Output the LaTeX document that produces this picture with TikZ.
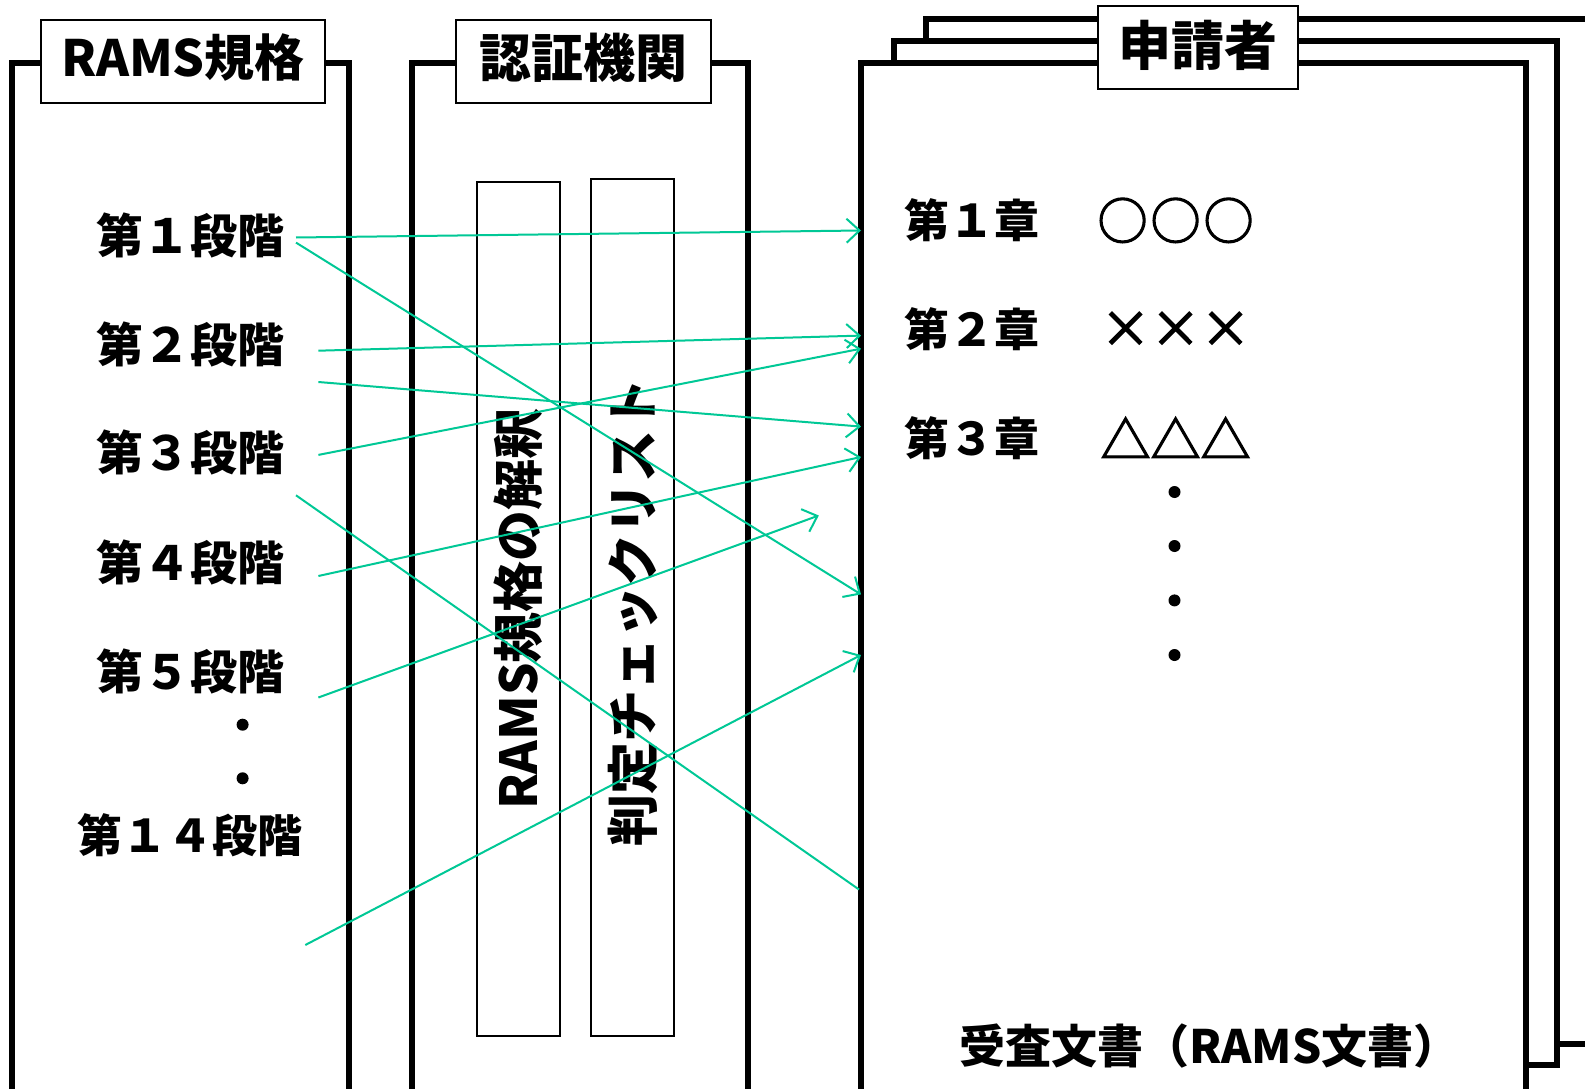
\documentclass[tikz,border=0pt]{standalone}
\usepackage{fontspec}
\newfontfamily\jp{Noto Sans CJK JP}
\newfontfamily\jpsym{Noto Sans CJK JP}[FakeBold=2.5]
\usetikzlibrary{arrows.meta}
\definecolor{arrowgreen}{RGB}{0,200,150}
\begin{document}
\begin{tikzpicture}[x=1pt,y=-1pt,
  frame/.style={line width=5.5pt, line join=miter},
  titlebox/.style={draw, line width=1.5pt, fill=white, minimum height=83pt, inner sep=0pt},
  innerbox/.style={draw, line width=2pt, fill=white, inner sep=0pt, font=\jp\bfseries\fontsize{51}{60}\selectfont},
  lbl/.style={font=\jp\bfseries\fontsize{47}{58}\selectfont, inner sep=0pt},
  chlbl/.style={font=\jp\bfseries\fontsize{45}{54}\selectfont, inner sep=0pt},
  doclbl/.style={font=\jp\bfseries\fontsize{46}{54}\selectfont, inner sep=0pt},
  sym/.style={font=\jpsym\fontsize{50}{60}\selectfont, inner sep=0pt},
  dot/.style={circle, fill=black, inner sep=0pt, minimum size=12pt},
  arr/.style={draw=arrowgreen, line width=2pt, -{Straight Barb[length=13pt,width=24pt,line width=2pt]}},
  link/.style={draw=arrowgreen, line width=2pt}
]
\clip (0,0) rectangle (1585,1089);
\fill[white] (0,0) rectangle (1585,1089);

% left column: RAMS standard
\draw[frame] (12,1100) -- (12,63) -- (349,63) -- (349,1100);
\node[titlebox, minimum width=284pt] (t1) at (183,61.5) {};
\node[font=\jp\bfseries\fontsize{50}{60}\selectfont, inner sep=0pt] (t1l) at (183,58) {RAMS規格};

% middle column: certification body
\draw[frame] (412,1100) -- (412,63) -- (748,63) -- (748,1100);
\node[titlebox, minimum width=255pt] (t2) at (583.5,61.5) {};
\node[font=\jp\bfseries\fontsize{52}{60}\selectfont, inner sep=0pt] (t2l) at (583.5,58) {認証機関};
\node[innerbox, rotate=90, minimum width=854pt, minimum height=83pt] (ib1) at (518.5,609) {RAMS規格の解釈};
\node[innerbox, rotate=90, minimum width=857pt, minimum height=83pt] (ib2) at (632.5,607.5) {};
\node[font=\jp\bfseries\fontsize{52}{60}\selectfont, inner sep=0pt, rotate=90] (ib2l) at (632.5,612) {判定チェックリスト};

% right column: applicant (stacked pages)
\draw[frame, fill=white] (926,19) rectangle (1620,1044);
\draw[frame, fill=white] (894,41) rectangle (1557,1065);
\draw[frame, fill=white] (861,63) rectangle (1526,1120);
\node[titlebox, minimum width=200pt] (t3) at (1198,47.5) {};
\node[font=\jp\bfseries\fontsize{53}{60}\selectfont, inner sep=0pt] (t3l) at (1198,45) {申請者};

% stages
\node[lbl] (s1) at (190,235.5) {第１段階};
\node[lbl] (s2) at (190,344.7) {第２段階};
\node[lbl] (s3) at (190,452.8) {第３段階};
\node[lbl] (s4) at (190,562) {第４段階};
\node[lbl] (s5) at (190,671) {第５段階};
\node[dot] (ld1) at (242.6,724.7) {};
\node[dot] (ld2) at (242.6,778.3) {};
\node[font=\jp\bfseries\fontsize{45}{54}\selectfont, inner sep=0pt] (s14) at (190,835) {第１４段階};

% chapters
\node[chlbl] (c1) at (971.5,220.4) {第１章};
\node[chlbl] (c2) at (971.5,329.5) {第２章};
\node[chlbl] (c3) at (971.5,437.7) {第３章};
\node[sym] (m1) at (1175.6,220.4) {○\kern3pt○\kern3pt○};
\node[sym] (m2) at (1175.6,329.5) {×××};
\node[sym] (m3) at (1175.6,437.7) {△△△};
\node[dot] (rd1) at (1174.5,492) {};
\node[dot] (rd2) at (1174.5,546) {};
\node[dot] (rd3) at (1174.5,600.4) {};
\node[dot] (rd4) at (1174.5,655) {};
\node[doclbl] (doc) at (1209.5,1046) {受査文書（RAMS文書）};

% connector ends
\coordinate (a1s) at (296,237.5);   \coordinate (a1e) at (861,230.5);
\coordinate (a2s) at (296,242.6);   \coordinate (a2e) at (861,594.4);
\coordinate (a3s) at (318.4,350.7); \coordinate (a3e) at (861,335.6);
\coordinate (a4s) at (318.4,382);   \coordinate (a4e) at (861,426.6);
\coordinate (a5s) at (318.4,454.9); \coordinate (a5e) at (861,348.7);
\coordinate (a6s) at (296,495.3);   \coordinate (a6e) at (859,889.5);
\coordinate (a7s) at (318.4,576);   \coordinate (a7e) at (861,457);
\coordinate (a8s) at (318.4,697.5); \coordinate (a8e) at (818.8,515.5);
\coordinate (a9s) at (305.3,945);   \coordinate (a9e) at (861,655);

\draw[arr] (a1s) -- (a1e);
\draw[arr] (a2s) -- (a2e);
\draw[arr] (a3s) -- (a3e);
\draw[arr] (a4s) -- (a4e);
\draw[arr] (a5s) -- (a5e);
\draw[link] (a6s) -- (a6e);
\draw[arr] (a7s) -- (a7e);
\draw[arr] (a8s) -- (a8e);
\draw[arr] (a9s) -- (a9e);
\end{tikzpicture}
\end{document}
